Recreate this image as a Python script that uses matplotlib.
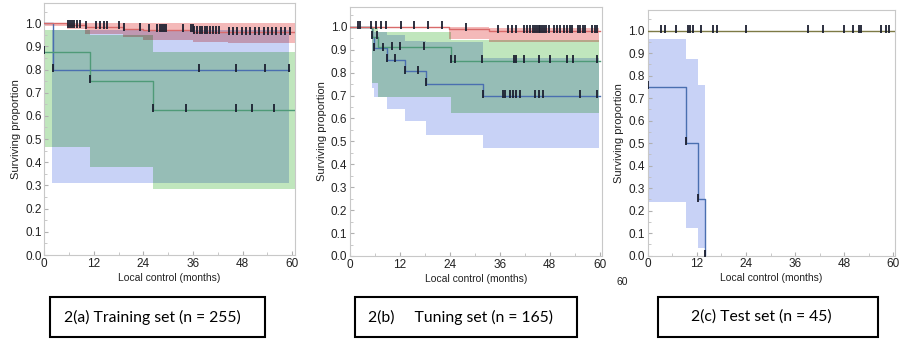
import numpy as np
import matplotlib
matplotlib.use("Agg")
import matplotlib.pyplot as plt
from matplotlib.patches import Rectangle
from matplotlib.ticker import MultipleLocator, FormatStrFormatter
from matplotlib.colors import to_rgb

plt.rcParams["font.family"] = ["Liberation Sans", "DejaVu Sans"]

# ---- data (months, surviving proportion) ----
# panel (a) training set
red_a_t = [5.5, 10.0, 19.0, 24.0, 36.0, 44.5]
red_a_s = [0.99, 0.982, 0.976, 0.97, 0.964, 0.96]
red_a_cens = [5.8, 6.2, 6.6, 7.2, 7.9, 8.7, 10.1, 12.5, 13.5, 14.5, 15.3, 18.2, 19.3,
              23.2, 25.4, 27.2, 28.1, 28.5, 28.9, 29.4, 33.5, 35.5, 35.9, 36.3, 36.9,
              37.6, 38.2, 38.9, 39.5, 40.2, 40.8, 41.5, 42.2, 44.6, 45.7, 46.7, 47.8,
              48.8, 49.9, 50.9, 52.0, 53.1, 54.1, 55.2, 56.2, 57.3, 58.3, 59.4]
red_a_band_x = [0.0, 5.5, 10.0, 19.0, 24.0, 36.0, 44.5, 60.7]
red_a_lo = [0.99, 0.975, 0.955, 0.94, 0.928, 0.92, 0.914]
red_a_hi = [1.0, 1.0, 1.0, 1.0, 1.0, 1.0, 1.0]

green_a_t = [0.0, 11.1, 26.3]
green_a_s = [0.875, 0.75, 0.625]
green_a_cens = [0.0, 11.1, 26.3, 34.4, 46.3, 50.4, 55.5]
green_a_band_x = [0.0, 11.1, 26.3, 60.7]
green_a_lo = [0.465, 0.38, 0.285]
green_a_hi = [0.97, 0.95, 0.877]

blue_a_t = [2.0]
blue_a_s = [0.8]
blue_a_cens = [2.0, 37.4, 46.4, 53.4, 59.3]
blue_a_band_x = [2.0, 59.3]
blue_a_lo = [0.31]
blue_a_hi = [0.97]

# panel (b) tuning set
red_b_t = [23.9, 33.5]
red_b_s = [0.99, 0.98]
red_b_cens = [1.9, 2.4, 5.0, 6.2, 7.4, 8.6, 12.3, 15.5, 18.7, 22.1, 27.9, 35.5, 38.0,
              39.0, 39.8, 41.8, 42.6, 43.4, 43.9, 44.4, 45.0, 45.4, 45.8, 46.2, 46.6,
              47.2, 47.8, 49.0, 49.8, 50.6, 51.4, 52.2, 52.9, 53.4, 54.8, 55.4, 56.1,
              56.6, 58.2, 58.8, 59.4]
red_b_band_x = [23.9, 33.5, 60.0]
red_b_lo = [0.945, 0.93]
red_b_hi = [0.995, 0.99]

green_b_t = [5.2, 6.8, 24.4]
green_b_s = [0.955, 0.91, 0.85]
green_b_cens = [6.4, 10.0, 12.0, 17.8, 24.4, 25.2, 31.7, 39.4, 39.8, 41.9, 45.5,
                48.2, 52.2, 53.6, 59.4]
green_b_band_x = [5.2, 6.8, 24.4, 60.0]
green_b_lo = [0.75, 0.69, 0.62]
green_b_hi = [0.99, 0.975, 0.94]

blue_b_t = [5.2, 5.8, 8.8, 13.3, 18.3, 32.0]
blue_b_s = [0.955, 0.905, 0.855, 0.805, 0.75, 0.70]
blue_b_cens = [5.2, 5.8, 8.0, 8.8, 10.8, 13.3, 16.4, 18.3, 32.0, 36.9, 37.3, 38.4,
               39.1, 39.8, 41.0, 44.6, 45.5, 46.4, 55.4, 59.4]
blue_b_band_x = [5.2, 5.8, 8.8, 13.3, 18.3, 32.0, 60.0]
blue_b_lo = [0.73, 0.69, 0.64, 0.585, 0.525, 0.47]
blue_b_hi = [0.99, 0.975, 0.96, 0.935, 0.93, 0.86]

# panel (c) test set
top_c_cens = [3.2, 4.2, 7.0, 9.9, 10.3, 11.0, 13.0, 16.0, 16.8, 23.9, 39.1, 42.8,
              48.0, 50.1, 51.5, 52.1, 57.0, 58.2, 59.0]
blue_c_t = [0.0, 9.3, 12.2, 14.0]
blue_c_s = [0.75, 0.5, 0.25, 0.0]
blue_c_cens = [0.0, 9.3, 12.2, 14.0]
blue_c_band_x = [0.0, 9.3, 12.2, 14.0]
blue_c_lo = [0.24, 0.125, 0.035]
blue_c_hi = [0.965, 0.875, 0.76]

captions = ["2(a) Training set (n = 255)", "2(b)     Tuning set (n = 165)",
            "2(c) Test set (n = 45)"]

RED, GREEN, BLUE = "#d86a6a", "#4f9a78", "#4a6fb0"
RED_F, GREEN_F, BLUE_F = "#f4b9b9", "#c0e6bd", "#c8d2f6"
OLIVE = "#7d7a45"
TICK_C = "#1c2030"


def surv_at(times, surv, x):
    # right-continuous step function
    out = 1.0
    for t, s in zip(times, surv):
        if x >= t:
            out = s
    return out


def km(ax, times, surv, end, color, cens, lw=1.0):
    start = surv[0] if times[0] == 0 else 1.0
    xs = [0.0] + list(times) + [end]
    ys = [start] + list(surv) + [surv[-1]]
    ax.step(xs, ys, where="post", color=color, lw=lw, zorder=3)
    cy = [surv_at(times, surv, c) for c in cens]
    ax.plot(cens, np.array(cy) + 0.008, ls="none", marker="|", ms=5.5, mew=1.3,
            color=TICK_C, zorder=4)


def bands(ax, xmax, ymax, specs):
    # confidence bands blended multiplicatively, like the original software
    nx, ny = 1600, 1400
    xs = (np.arange(nx) + 0.5) / nx * xmax
    ys = (np.arange(ny) + 0.5) / ny * ymax
    X, Y = np.meshgrid(xs, ys)
    img = np.ones((ny, nx, 3))
    for edges, lo, hi, color in specs:
        rgb = np.array(to_rgb(color))
        for i in range(len(lo)):
            m = (X >= edges[i]) & (X < edges[i + 1]) & (Y >= lo[i]) & (Y <= hi[i])
            img[m] *= rgb
    ax.imshow(img, origin="lower", extent=[0, xmax, 0, ymax], aspect="auto",
              interpolation="nearest", zorder=0)


def style(ax, xmax, ymax):
    ax.set_xlim(0, xmax)
    ax.set_ylim(0, ymax)
    ax.xaxis.set_major_locator(MultipleLocator(12))
    ax.xaxis.set_minor_locator(MultipleLocator(6))
    ax.yaxis.set_minor_locator(MultipleLocator(0.05))
    ax.set_yticks(np.arange(0, 1.01, 0.1))
    ax.yaxis.set_major_formatter(FormatStrFormatter("%.1f"))
    for s in ax.spines.values():
        s.set_color("#c8c8c8")
        s.set_linewidth(0.8)
    ax.tick_params(which="major", direction="in", length=3, color="#b0b0b0",
                   labelsize=8.5, labelcolor="#222222", pad=2)
    ax.tick_params(which="minor", direction="in", length=2, color="#c0c0c0")
    ax.set_ylabel("Surviving proportion", fontsize=8, color="#222222", labelpad=3)
    ax.set_xlabel("Local control (months)", fontsize=7.5, color="#222222", labelpad=2)


fig = plt.figure(figsize=(9, 3.42), dpi=100)

# (a)
ax = fig.add_axes([44.3 / 900, 87 / 342, 250.7 / 900, 252 / 342])
bands(ax, 60.7, 1.087, [(blue_a_band_x, blue_a_lo, blue_a_hi, BLUE_F),
                        (green_a_band_x, green_a_lo, green_a_hi, GREEN_F),
                        (red_a_band_x, red_a_lo, red_a_hi, RED_F)])
km(ax, blue_a_t, blue_a_s, 59.3, BLUE, blue_a_cens)
km(ax, green_a_t, green_a_s, 60.7, GREEN, green_a_cens)
km(ax, red_a_t, red_a_s, 60.7, RED, red_a_cens)
style(ax, 60.7, 1.087)

# (b)
ax = fig.add_axes([350 / 900, 86 / 342, 252 / 900, 249 / 342])
bands(ax, 60.6, 1.086, [(blue_b_band_x, blue_b_lo, blue_b_hi, BLUE_F),
                        (green_b_band_x, green_b_lo, green_b_hi, GREEN_F),
                        (red_b_band_x, red_b_lo, red_b_hi, RED_F)])
km(ax, blue_b_t, blue_b_s, 60.0, BLUE, blue_b_cens)
km(ax, green_b_t, green_b_s, 60.0, GREEN, green_b_cens)
km(ax, red_b_t, red_b_s, 60.0, RED, red_b_cens)
style(ax, 60.6, 1.086)

# (c)
ax = fig.add_axes([647.7 / 900, 86.3 / 342, 247 / 900, 245.7 / 342])
bands(ax, 60.3, 1.092, [(blue_c_band_x, blue_c_lo, blue_c_hi, BLUE_F)])
km(ax, blue_c_t, blue_c_s, 14.0, BLUE, blue_c_cens)
km(ax, [60.0], [1.0], 60.3, OLIVE, top_c_cens)
style(ax, 60.3, 1.092)

# caption boxes
boxes = [(50, 265), (355, 577), (658, 878)]
text_x = [152, 461, 761]
for (x0, x1), tx, cap in zip(boxes, text_x, captions):
    fig.patches.append(Rectangle((x0 / 900, 5 / 342), (x1 - x0) / 900, 40 / 342,
                                 transform=fig.transFigure, fill=False,
                                 ec="black", lw=1.5))
    fig.text(tx / 900, 25 / 342, cap, ha="center", va="center", fontsize=11.3,
             family=["Lato", "DejaVu Sans"], color="black")

fig.text(622 / 900, 60 / 342, "60", ha="center", va="center", fontsize=7.5,
         color="#222222")

fig.savefig("out.png", dpi=100)
